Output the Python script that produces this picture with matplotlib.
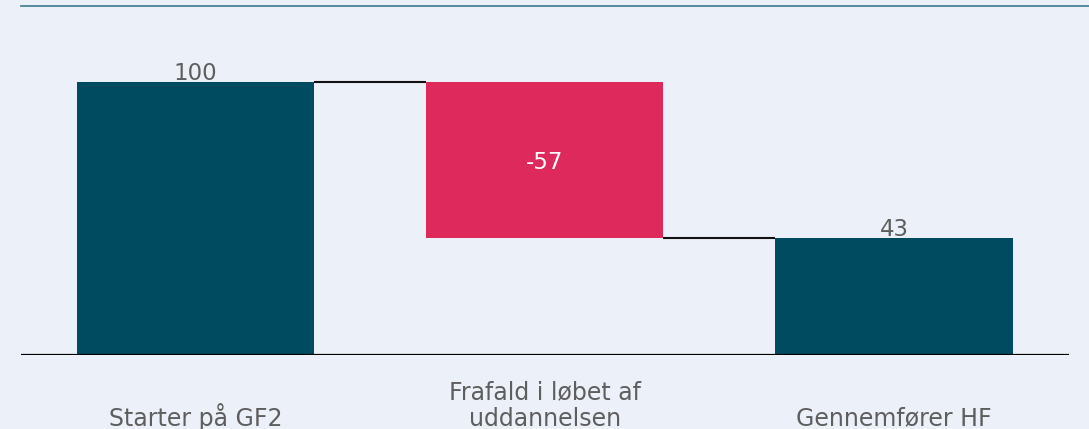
import matplotlib
matplotlib.use("Agg")
import matplotlib.pyplot as plt
from matplotlib.lines import Line2D
import matplotlib.transforms as mtransforms

plt.rcParams["font.family"] = ["DejaVu Sans"]

categories = ["Starter på GF2", "Frafald i løbet af\nuddannelsen", "Gennemfører HF"]
values = [100, -57, 43]
kinds = ["total", "relative", "total"]

BG = "#ECF0F8"
TEAL = "#004B5F"
RED = "#DE295C"
GREY = "#5E5E5E"

fig = plt.figure(figsize=(10.89, 4.29), dpi=100, facecolor=BG)
ax = fig.add_axes([21 / 1089, 1 - 355 / 429, 1047.5 / 1089, 350 / 429])
ax.set_facecolor(BG)

# waterfall geometry
bottoms, tops = [], []
running = 0
for v, k in zip(values, kinds):
    if k == "total":
        b, t = 0, v
        running = v
    else:
        b, t = running + v, running
        running = running + v
    bottoms.append(min(b, t))
    tops.append(max(b, t))

x = list(range(len(categories)))
colors = [TEAL if k == "total" else RED for k in kinds]
heights = [t - b for b, t in zip(bottoms, tops)]
width = 0.68
ax.bar(x, heights, bottom=bottoms, width=width, color=colors, zorder=2)

# connectors
levels = []
running = 0
for v, k in zip(values, kinds):
    running = v if k == "total" else running + v
    levels.append(running)
for i in range(len(x) - 1):
    ax.plot([x[i] + width / 2, x[i + 1] - width / 2], [levels[i], levels[i]],
            color="#111111", lw=1.5, zorder=1, solid_capstyle="butt")

ax.axhline(0, color="black", lw=1.6, zorder=3)

# value labels
for xi, v, k, b, t in zip(x, values, kinds, bottoms, tops):
    if k == "total":
        ax.annotate(f"{v}", (xi, t), xytext=(0, 1.5), textcoords="offset points",
                    ha="center", va="baseline", fontsize=16.5, color=GREY)
    else:
        ax.text(xi, (b + t) / 2, f"{v}", ha="center", va="center_baseline",
                fontsize=16.5, color="white")

ax.set_xlim(-0.5, len(categories) - 0.5)
ax.set_ylim(0, 350 / 2.73)
ax.set_xticks([])
ax.set_yticks([])
for s in ax.spines.values():
    s.set_visible(False)

trans = mtransforms.blended_transform_factory(ax.transData, fig.transFigure)
for xi, c in zip(x, categories):
    ax.text(xi, -0.004, c, transform=trans, ha="center", va="bottom",
            fontsize=17, color=GREY, linespacing=1.15, clip_on=False)

fig.add_artist(Line2D([21 / 1089, 1], [1 - 5.5 / 429, 1 - 5.5 / 429],
                      transform=fig.transFigure, color="#4A8497", lw=1.3))

fig.savefig("out.png", dpi=100, facecolor=BG)
